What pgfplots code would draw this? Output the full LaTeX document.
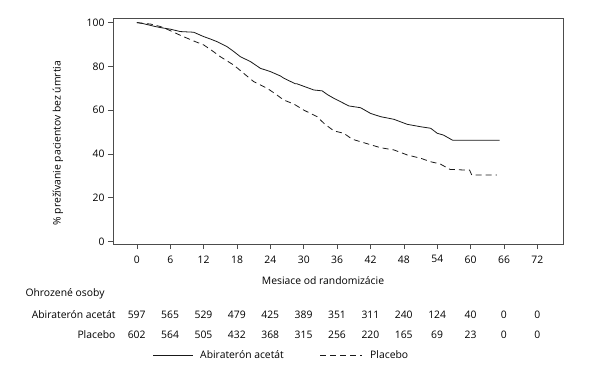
\documentclass[border=0pt]{standalone}
\usepackage{fontspec}
\setmainfont{Open Sans}
\usepackage{pgfplots}
\pgfplotsset{compat=1.18}
\begin{document}
\begin{tikzpicture}[font=\fontsize{10.4}{12}\selectfont]
\path[use as bounding box] (-113bp,-134bp) rectangle (489bp,244bp);
\begin{axis}[
  at={(0,0)}, anchor=south west,
  scale only axis, width=450bp, height=226bp,
  xmin=-4.3, xmax=76.6, ymin=-1.2, ymax=102.1,
  xtick={0,6,...,72}, ytick={0,20,...,100},
  tick align=outside, xtick pos=bottom, ytick pos=left,
  major tick length=5bp,
  axis line style={black!70, line width=0.8pt},
  tick style={black!70, line width=0.6pt},
  xticklabel style={yshift=-3bp},
  /pgf/number format/assume math mode=true,
  clip=false,
]
\addplot[black!90, line width=0.8pt] coordinates {
(0,100) (1,99.6) (2,99.0) (3.3,98.2) (4.5,97.6) (6,97.0) (7.8,95.9) (10.2,95.6) (12,93.6)
(13.2,92.5) (14.4,91.3) (16.2,89.0) (17.4,86.8) (18.6,84.4) (20.4,82.2) (22.2,79.1)
(24,77.6) (25.8,75.6) (26.4,74.6) (28.5,72.0) (28.8,72.0) (30.3,70.6) (31.8,69.2) (33.3,68.8)
(34.3,67.0) (35.4,65.4) (36.8,63.6) (38.1,61.9) (40.2,61.1) (42,58.5) (43.8,57.0)
(46.2,55.8) (48.6,53.5) (51,52.4) (52.8,51.7) (54,49.4) (55.1,48.6) (56.7,46.3) (56.9,46.2) (65.2,46.2)
};
\addplot[black!90, line width=0.8pt, dash pattern=on 6bp off 4bp] coordinates {
(0,100) (2.5,99.3) (4.2,98.2) (5.4,97.0) (6.6,95.6) (7.8,94.2) (9,92.9) (10.5,91.3) (12,89.8)
(13.5,87.2) (15,84.4) (17.4,80.6) (19.2,76.8) (21,73.0) (23.4,70.0) (24.9,67.4) (26.4,64.6)
(28.2,62.8) (30,60.0) (32.4,57.0) (33.6,54.0) (35.4,50.5) (37.2,49.4) (38.7,46.7)
(40.8,45.1) (43.8,42.8) (46.2,41.8) (48.6,39.5) (51,38.0) (52.8,36.4) (54.5,35.4)
(56.3,32.9) (59,32.6) (59.8,32.6) (60.2,30.3) (64.7,30.3)
};
\end{axis}
\node[rotate=90] at (-55bp,101bp) {\% prežívanie pacientov bez úmrtia};
\node at (210bp,-37bp) {Mesiace od randomizácie};
\node[anchor=west] at (-91bp,-50bp) {Ohrozené osoby};
\node[anchor=east] at (6bp,-71bp) {Abiraterón acetát};
\node[anchor=east] at (6bp,-91bp) {Placebo};
\foreach \m/\a/\p in {0/597/602,6/565/564,12/529/505,18/479/432,24/425/368,30/389/315,36/351/256,42/311/220,48/240/165,54/124/69,60/40/23,66/0/0,72/0/0}{
  \node at ({23.7bp+5.564bp*\m},-71bp) {\a};
  \node at ({23.7bp+5.564bp*\m},-91bp) {\p};
}
\draw[black!90, line width=0.8pt] (40bp,-111bp) -- (80bp,-111bp);
\node[anchor=west, inner sep=0pt] at (87bp,-111bp) {Abiraterón acetát};
\draw[black!90, line width=0.8pt, dash pattern=on 6bp off 4bp] (207bp,-111bp) -- (249bp,-111bp);
\node[anchor=west, inner sep=0pt] at (257bp,-111bp) {Placebo};
\end{tikzpicture}
\end{document}
